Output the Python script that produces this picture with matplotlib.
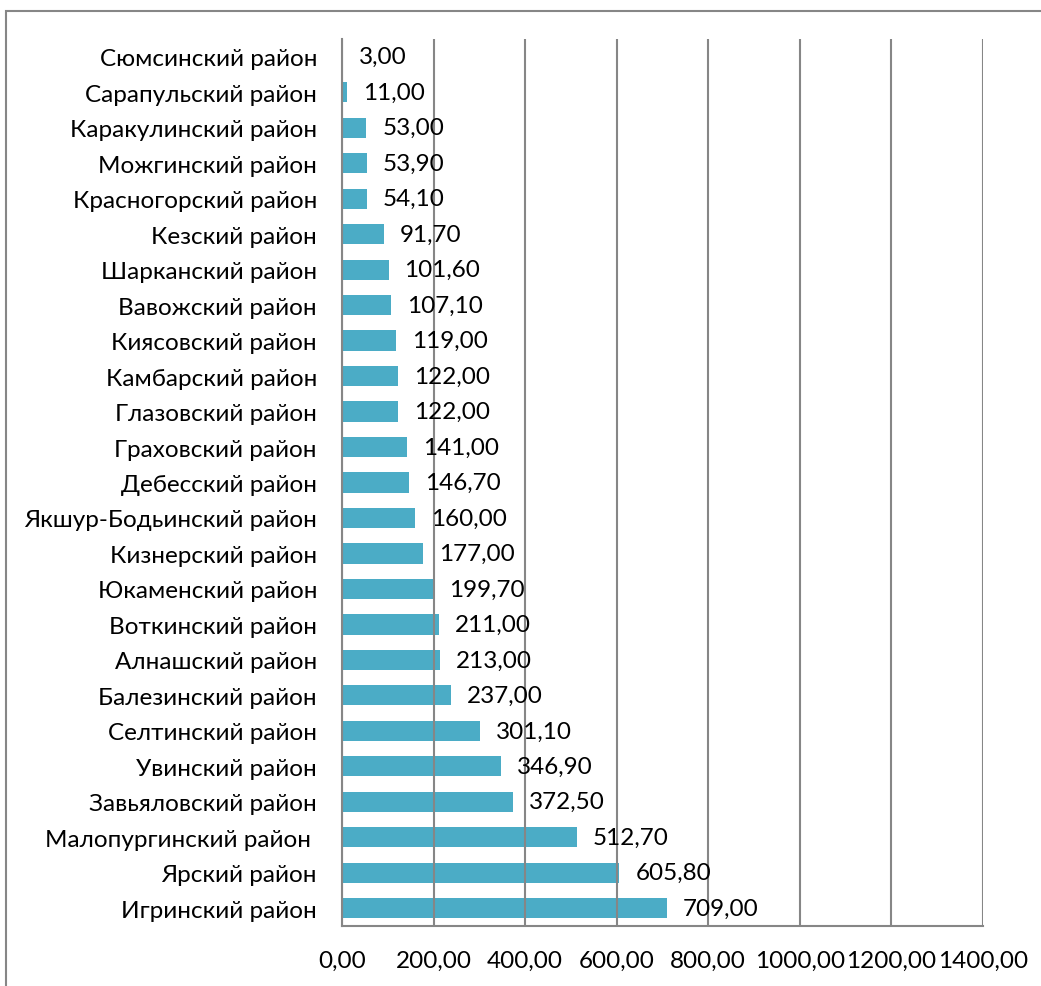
import matplotlib.pyplot as plt
from matplotlib import rcParams
from matplotlib.patches import Rectangle

rcParams['font.family'] = ['Lato', 'DejaVu Sans']
rcParams['font.size'] = 17.5

# districts, top to bottom as in the chart
districts = ['Сюмсинский район', 'Сарапульский район', 'Каракулинский район',
             'Можгинский район', 'Красногорский район', 'Кезский район',
             'Шарканский район', 'Вавожский район', 'Киясовский район',
             'Камбарский район', 'Глазовский район', 'Граховский район',
             'Дебесский район', 'Якшур-Бодьинский район', 'Кизнерский район',
             'Юкаменский район', 'Воткинский район', 'Алнашский район',
             'Балезинский район', 'Селтинский район', 'Увинский район',
             'Завьяловский район', 'Малопургинский район ', 'Ярский район',
             'Игринский район']
values = [3.00, 11.00, 53.00, 53.90, 54.10, 91.70, 101.60, 107.10, 119.00,
          122.00, 122.00, 141.00, 146.70, 160.00, 177.00, 199.70, 211.00,
          213.00, 237.00, 301.10, 346.90, 372.50, 512.70, 605.80, 709.00]
xticks = [0, 200, 400, 600, 800, 1000, 1200, 1400]

W, H = 1041, 987
fig = plt.figure(figsize=(W/100, H/100), dpi=100)
ax = fig.add_axes([342/W, 1-927/H, (983-342)/W, (927-40)/H])

grey = '#868686'
pos = list(range(len(districts)))
ax.barh(pos, values, height=0.57, color='#4BACC6', zorder=1)

for p, v in zip(pos, values):
    ax.annotate(f'{v:.2f}'.replace('.', ','), (v, p), xytext=(16, 0),
                textcoords='offset pixels', va='center', ha='left',
                zorder=3)

ax.set_xlim(0, 1400)
ax.set_ylim(len(districts)-0.5, -0.5)
ax.set_xticks(xticks)
ax.set_xticklabels([f'{t:.2f}'.replace('.', ',') for t in xticks])
ax.set_yticks(pos)
ax.set_yticklabels(districts)
ax.tick_params(axis='both', length=0)
ax.tick_params(axis='x', pad=17)
ax.tick_params(axis='y', pad=18)

ax.grid(axis='x', color=grey, linewidth=1.5, zorder=2)
ax.set_axisbelow(False)
for s in ['top', 'right']:
    ax.spines[s].set_visible(False)
for s in ['left', 'bottom']:
    ax.spines[s].set_color(grey)
    ax.spines[s].set_linewidth(1.5)

# outer chart border (right/bottom edges fall outside the image)
fig.patches.append(Rectangle((6/W, -0.1), 1.2, 1-12/H+0.1, fill=False,
                             edgecolor=grey, linewidth=1.5,
                             transform=fig.transFigure))

fig.savefig('out.png', dpi=100)
